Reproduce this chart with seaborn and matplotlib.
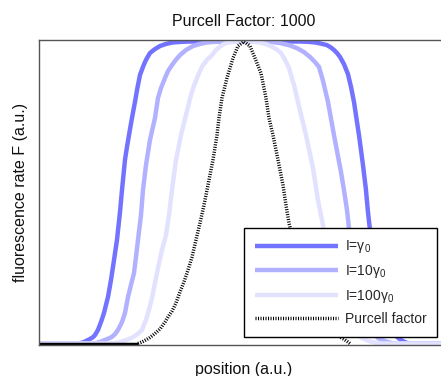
import matplotlib
matplotlib.use("Agg")
import matplotlib.pyplot as plt
import pandas as pd
import seaborn as sns

# Fluorescence rate versus emitter position for three excitation intensities,
# together with the cavity's Purcell-factor profile (all normalised to 1).
pos_i1 = [-2.05, -1.66, -1.63, -1.60, -1.57, -1.54, -1.51, -1.49, -1.46, -1.43,
          -1.40, -1.36, -1.33, -1.30, -1.27, -1.24, -1.22, -1.19, -1.17, -1.15,
          -1.12, -1.09, -1.07, -1.04, -1.01, -0.99, -0.97, -0.94, -0.89, -0.84,
          -0.78, -0.71, -0.62, -0.54,
          0.56, 0.64, 0.71, 0.77, 0.83, 0.87, 0.90, 0.93, 0.96, 1.00, 1.04, 1.07,
          1.10, 1.125, 1.15, 1.19, 1.22, 1.24, 1.26, 1.29, 1.32, 1.35, 1.38, 1.42,
          1.47, 1.53, 1.56, 1.59, 1.62, 1.66, 2.05]
rate_i1 = [0.0, 0.0, 0.002, 0.005, 0.010, 0.015, 0.021, 0.028, 0.045, 0.071,
           0.101, 0.154, 0.210, 0.276, 0.343, 0.435, 0.508, 0.608, 0.651, 0.690,
           0.747, 0.800, 0.839, 0.889, 0.916, 0.932, 0.945, 0.962, 0.975, 0.985,
           0.992, 0.997, 0.999, 1.0,
           1.0, 0.999, 0.997, 0.993, 0.988, 0.980, 0.972, 0.962, 0.949, 0.925, 0.892, 0.850,
           0.800, 0.745, 0.690, 0.591, 0.508, 0.435, 0.376, 0.310, 0.243, 0.177, 0.127, 0.084,
           0.045, 0.022, 0.014, 0.008, 0.003, 0.0, 0.0]

pos_i10 = [-2.05, -1.52, -1.48, -1.44, -1.39, -1.35, -1.32, -1.29, -1.26, -1.22,
           -1.19, -1.16, -1.13, -1.10, -1.08, -1.06, -1.03, -1.01, -0.98, -0.94,
           -0.89, -0.86, -0.83, -0.79, -0.76, -0.72, -0.68, -0.64, -0.58, -0.51,
           -0.44, -0.37, -0.29, -0.19,
           0.21, 0.28, 0.36, 0.45, 0.53, 0.60, 0.66, 0.71, 0.75, 0.79, 0.84, 0.90,
           0.97, 1.00, 1.03, 1.05, 1.07, 1.10, 1.14, 1.18, 1.22, 1.27, 1.34, 1.38,
           1.42, 1.46, 1.51, 2.05]
rate_i10 = [0.0, 0.0, 0.002, 0.005, 0.012, 0.017, 0.022, 0.031, 0.045, 0.071,
            0.101, 0.154, 0.194, 0.233, 0.286, 0.343, 0.425, 0.508, 0.591, 0.674,
            0.747, 0.813, 0.846, 0.879, 0.902, 0.922, 0.940, 0.955, 0.972, 0.985,
            0.992, 0.997, 0.999, 1.0,
            1.0, 0.998, 0.995, 0.988, 0.978, 0.965, 0.949, 0.932, 0.916, 0.870, 0.800, 0.690,
            0.568, 0.508, 0.442, 0.382, 0.326, 0.243, 0.177, 0.111, 0.071, 0.041, 0.018, 0.012,
            0.007, 0.003, 0.0, 0.0]

pos_i100 = [-2.05, -1.36, -1.31, -1.26, -1.22, -1.17, -1.13, -1.09, -1.05, -1.02,
            -0.98, -0.95, -0.92, -0.89, -0.86, -0.82, -0.78, -0.75, -0.72, -0.68,
            -0.63, -0.58, -0.53, -0.50, -0.47, -0.44, -0.41, -0.37, -0.32, -0.28,
            -0.24, -0.20, -0.16, -0.10, -0.04,
            0.06, 0.12, 0.18, 0.23, 0.28, 0.33, 0.37, 0.41, 0.45, 0.50, 0.54, 0.62,
            0.69, 0.74, 0.79, 0.82, 0.86, 0.90, 0.94, 0.98, 1.03, 1.10, 1.14, 1.18,
            1.22, 1.26, 1.31, 1.36, 2.05]
rate_i100 = [0.0, 0.0, 0.001, 0.003, 0.007, 0.012, 0.018, 0.025, 0.035, 0.045,
             0.078, 0.111, 0.151, 0.200, 0.250, 0.310, 0.359, 0.425, 0.508, 0.608,
             0.690, 0.757, 0.823, 0.853, 0.879, 0.902, 0.922, 0.939, 0.955, 0.972,
             0.983, 0.992, 0.997, 0.999, 1.0,
             1.0, 0.999, 0.995, 0.990, 0.983, 0.973, 0.962, 0.940, 0.912, 0.856, 0.800, 0.690,
             0.581, 0.475, 0.392, 0.326, 0.260, 0.200, 0.151, 0.104, 0.068, 0.038, 0.027, 0.018,
             0.012, 0.007, 0.003, 0.0, 0.0]

pos_purcell = [-1.06, -1.02, -0.98, -0.94, -0.89, -0.84, -0.79, -0.76, -0.72, -0.68,
               -0.64, -0.60, -0.56, -0.52, -0.48, -0.44, -0.40, -0.37, -0.31, -0.27,
               -0.25, -0.22, -0.17, -0.11, -0.06, 0.0,
               0.06, 0.11, 0.17, 0.22, 0.25, 0.29, 0.34, 0.39, 0.42, 0.45, 0.49,
               0.53, 0.57, 0.61, 0.65, 0.69, 0.73, 0.77, 0.81, 0.86, 0.92, 0.97,
               1.01, 1.04, 1.06]
purcell = [0.0, 0.005, 0.012, 0.020, 0.033, 0.048, 0.071, 0.088, 0.107, 0.134,
           0.171, 0.204, 0.243, 0.286, 0.343, 0.399, 0.458, 0.508, 0.608, 0.690,
           0.747, 0.813, 0.879, 0.945, 0.985, 1.0,
           0.985, 0.945, 0.895, 0.813, 0.747, 0.690, 0.608, 0.525, 0.458, 0.399, 0.343,
           0.286, 0.243, 0.204, 0.171, 0.134, 0.107, 0.088, 0.071, 0.048, 0.033, 0.020,
           0.012, 0.005, 0.0]

# region where the Purcell factor vanishes (drawn as a solid baseline)
pos_purcell_floor = [-2.05, -1.06]
purcell_floor = [0.0, 0.0]

labels = [r"I=$\mathregular{\gamma_0}$", r"I=10$\mathregular{\gamma_0}$",
          r"I=100$\mathregular{\gamma_0}$", "Purcell factor"]
colors = ["#7373ff", "#b1b1ff", "#e2e2ff"]
title = "Purcell Factor: 1000"
xlabel = "position (a.u.)"
ylabel = "fluorescence rate F (a.u.)"

sns.set_theme(style="white")
plt.rcParams["font.family"] = ["Liberation Sans", "DejaVu Sans"]

fig = plt.figure(figsize=(4.41, 3.76), dpi=100)
ax = fig.add_axes([0.0884, 0.0824, 0.9297, 0.8112])

series = [(pos_i1, rate_i1), (pos_i10, rate_i10), (pos_i100, rate_i100)]
for (x, y), lab, col in zip(series, labels[:3], colors):
    df = pd.DataFrame({"position": x, "F": y})
    sns.lineplot(data=df, x="position", y="F", sort=False, estimator=None,
                 color=col, linewidth=3.2, label=lab, ax=ax,
                 solid_capstyle="butt", solid_joinstyle="round")

df_floor = pd.DataFrame({"position": pos_purcell_floor, "F": purcell_floor})
sns.lineplot(data=df_floor, x="position", y="F", sort=False, estimator=None,
             color="black", linewidth=2.5, legend=False, ax=ax,
             solid_capstyle="butt")

df_p = pd.DataFrame({"position": pos_purcell, "F": purcell})
sns.lineplot(data=df_p, x="position", y="F", sort=False, estimator=None,
             color="black", linewidth=2.5, linestyle=(0, (0.3, 0.42)),
             label=labels[3], ax=ax)

ax.set_xlim(-2.05, 2.05)
ax.set_ylim(-0.005, 1.005)
ax.set_xticks([])
ax.set_yticks([])
for side in ["left", "top", "bottom"]:
    ax.spines[side].set_color("#555555")
    ax.spines[side].set_linewidth(1.0)
ax.spines["right"].set_visible(False)

ax.set_title(title, fontsize=11.5, pad=10, color="#111111")
ax.set_xlabel(xlabel, fontsize=11.5, labelpad=12, color="#111111")
ax.set_ylabel(ylabel, fontsize=11.5, labelpad=8, color="#111111")

leg = ax.legend(loc="upper right", bbox_to_anchor=(437 / 441, 1 - 228 / 376),
                bbox_transform=fig.transFigure, borderaxespad=0,
                frameon=True, fancybox=False, framealpha=1, edgecolor="black",
                fontsize=10, handlelength=6.0, handletextpad=0.5,
                labelspacing=0.55, borderpad=0.75)
leg.get_frame().set_linewidth(1.0)

fig.savefig("out.png", dpi=100)
